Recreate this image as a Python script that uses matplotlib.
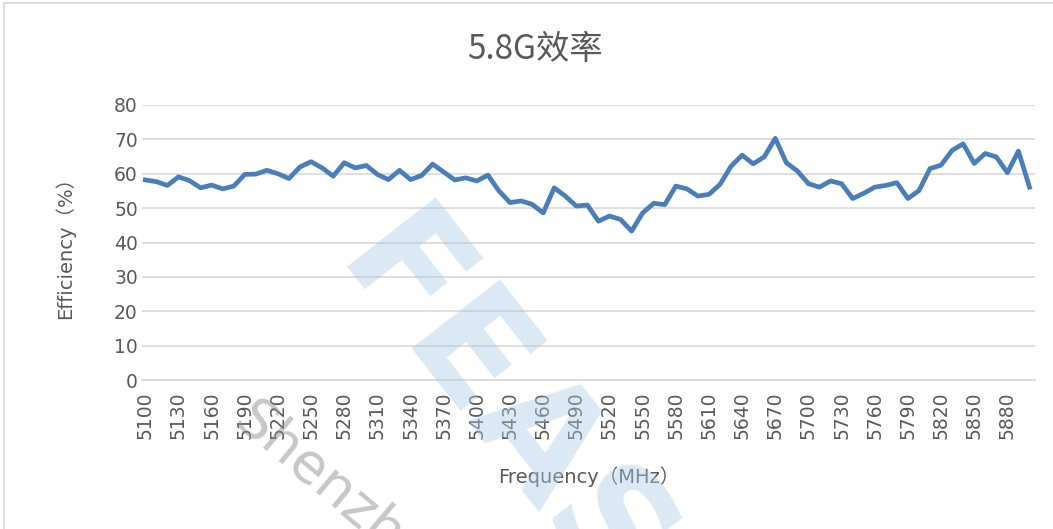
import matplotlib
matplotlib.use("Agg")
import matplotlib.pyplot as plt
from matplotlib.lines import Line2D

plt.rcParams['font.family'] = ['DejaVu Sans', 'Noto Sans CJK SC']

freq = list(range(5100, 5901, 10))
efficiency = [
    58.2, 57.7, 56.6, 59.1, 58.0, 55.9, 56.7, 55.6, 56.4, 59.8,
    59.9, 61.0, 60.0, 58.6, 62.0, 63.5, 61.7, 59.3, 63.2, 61.7,
    62.4, 59.8, 58.3, 61.0, 58.3, 59.5, 62.8, 60.5, 58.2, 58.8,
    57.9, 59.6, 55.0, 51.6, 52.1, 51.1, 48.6, 55.9, 53.5, 50.6,
    50.9, 46.2, 47.7, 46.7, 43.3, 48.6, 51.4, 51.0, 56.4, 55.6,
    53.5, 54.0, 56.9, 62.2, 65.4, 62.9, 64.9, 70.3, 63.2, 60.8,
    57.1, 56.1, 57.9, 57.1, 52.8, 54.3, 56.1, 56.6, 57.4, 52.8,
    55.1, 61.5, 62.5, 66.8, 68.7, 63.0, 65.9, 64.9, 60.3, 66.6,
    56.1,
]
tick_freqs = list(range(5100, 5881, 30))
y_ticks = [0, 10, 20, 30, 40, 50, 60, 70, 80]

text_color = '#595959'
grid_color = '#d9d9d9'

fig = plt.figure(figsize=(10.53, 5.29), dpi=100)
ax = fig.add_axes([142 / 1053, 1 - 380 / 529, (1035 - 142) / 1053, (380 - 105) / 529])

ax.plot(freq, efficiency, color='#4a7ebb', linewidth=3.4, solid_joinstyle='round')

ax.set_ylim(0, 80)
ax.set_xlim(5097, 5905)
ax.set_yticks(y_ticks)
ax.set_xticks(tick_freqs)
ax.set_xticklabels([str(f) for f in tick_freqs], rotation=90)
ax.grid(axis='y', color=grid_color, linewidth=1.2)
ax.set_axisbelow(True)
for side in ['top', 'right', 'left']:
    ax.spines[side].set_visible(False)
ax.spines['bottom'].set_color(grid_color)
ax.spines['bottom'].set_linewidth(1.2)
ax.tick_params(length=0, labelsize=13.5, colors=text_color, pad=8)
ax.tick_params(axis='y', pad=3)

ax.set_ylabel('Efficiency（%）', fontsize=14, color=text_color, labelpad=28)
ax.set_xlabel('Frequency（MHz）', fontsize=14, color=text_color, labelpad=20)
fig.text(535 / 1053, 1 - 50 / 529, '5.8G效率', fontsize=24, color=text_color,
         ha='center', va='center', family=['Noto Sans CJK SC', 'DejaVu Sans'])

# watermarks
fig.text(535 / 1053, 1 - 455 / 529, 'FEASY', fontsize=110, fontweight='bold',
         color='#a9cbe8', alpha=0.42, rotation=-52, ha='center', va='center')
fig.text(345 / 1053, 1 - 500 / 529, 'Shenzhen', fontsize=40,
         color='#909090', alpha=0.5, rotation=-40, ha='center', va='center')

# chart border
fig.add_artist(Line2D([4 / 1053, 4 / 1053], [0, 1 - 3 / 529], color='#d9d9d9',
                      linewidth=1.2, transform=fig.transFigure))
fig.add_artist(Line2D([4 / 1053, 1], [1 - 3 / 529, 1 - 3 / 529], color='#d9d9d9',
                      linewidth=1.2, transform=fig.transFigure))

fig.savefig('out.png', dpi=100)
